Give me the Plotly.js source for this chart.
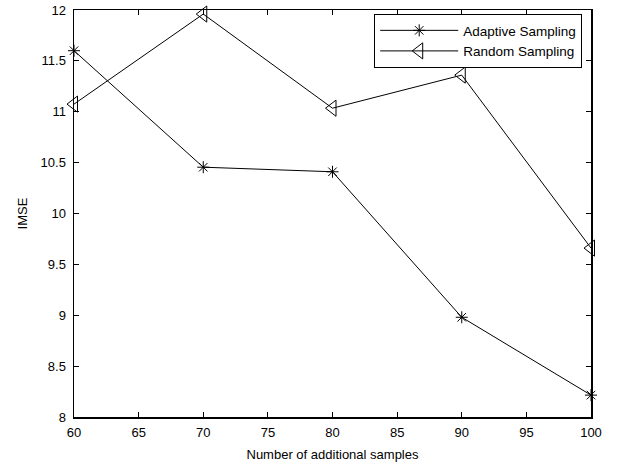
<!DOCTYPE html>
<html>
<head>
<meta charset="utf-8">
<script src="https://cdn.plot.ly/plotly-3.0.1.min.js"></script>
<style>html,body{margin:0;padding:0;background:#fff;}</style>
</head>
<body>
<div id="chart" style="width:618px;height:466px;"></div>
<script>
const samples = [60, 70, 80, 90, 100];
const adaptiveIMSE = [11.60, 10.455, 10.41, 8.98, 8.215];
const randomIMSE = [11.075, 11.96, 11.035, 11.36, 9.66];
const xTicks = [60, 65, 70, 75, 80, 85, 90, 95, 100];
const yTicks = [8, 8.5, 9, 9.5, 10, 10.5, 11, 11.5, 12];
const yTickText = ['8', '8.5', '9', '9.5', '10', '10.5', '11', '11.5', '12'];

const font = 'Liberation Sans, Arial, Helvetica, sans-serif';

const traces = [
  {
    x: samples, y: adaptiveIMSE, name: 'Adaptive Sampling',
    type: 'scatter', mode: 'lines+markers', cliponaxis: false,
    line: {color: '#000', width: 1},
    marker: {symbol: 'asterisk-open', size: 10, color: '#000', line: {color: '#000', width: 1}}
  },
  {
    x: samples, y: randomIMSE, name: 'Random Sampling',
    type: 'scatter', mode: 'lines+markers', cliponaxis: false,
    line: {color: '#000', width: 1},
    marker: {symbol: 'triangle-left-open', size: 14, color: '#000', line: {color: '#000', width: 1}}
  }
];

const layout = {
  width: 618, height: 466,
  margin: {l: 74, r: 27, t: 10, b: 49},
  paper_bgcolor: '#fff', plot_bgcolor: '#fff',
  font: {family: font, size: 13, color: '#000'},
  showlegend: true,
  legend: {
    x: 0.983, y: 0.99, xanchor: 'right', yanchor: 'top',
    bgcolor: '#fff', bordercolor: '#000', borderwidth: 1,
    font: {family: font, size: 13.5, color: '#000'},
    itemwidth: 78, tracegroupgap: 0
  },
  xaxis: {
    range: [60, 100], tickvals: xTicks, ticktext: xTicks.map(String),
    ticks: 'inside', ticklen: 5, tickcolor: '#000', tickwidth: 1,
    showline: true, linecolor: '#000', linewidth: 1.5, mirror: 'ticks',
    showgrid: false, zeroline: false, ticklabelstandoff: 3,
    tickfont: {family: font, size: 13, color: '#000'},
    title: {text: 'Number of additional samples', font: {family: font, size: 13, color: '#000'}, standoff: 11}
  },
  yaxis: {
    range: [8, 12], tickvals: yTicks, ticktext: yTickText,
    ticks: 'inside', ticklen: 5, tickcolor: '#000', tickwidth: 1,
    showline: true, linecolor: '#000', linewidth: 1.5, mirror: 'ticks',
    showgrid: false, zeroline: false, ticklabelstandoff: 4,
    tickfont: {family: font, size: 13, color: '#000'},
    title: {text: 'IMSE', font: {family: font, size: 13, color: '#000'}, standoff: 10}
  }
};

Plotly.newPlot('chart', traces, layout, {displayModeBar: false, staticPlot: true});
</script>
</body>
</html>
